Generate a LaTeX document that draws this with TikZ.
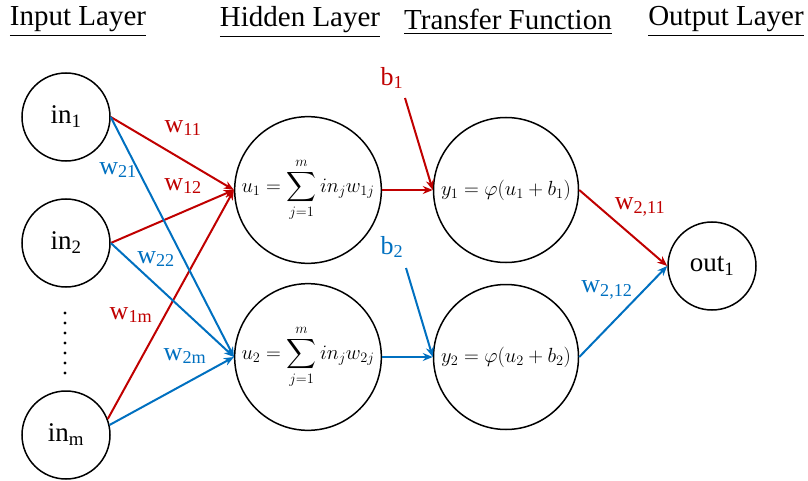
\RequirePackage{fix-cm}
\documentclass[tikz,border=0pt]{standalone}
\usepackage{amsmath}
\usepackage{fontspec}
\setmainfont{Liberation Serif}
\usetikzlibrary{arrows.meta}
\definecolor{wred}{RGB}{192,0,0}
\definecolor{wblue}{RGB}{0,112,192}
\begin{document}
\begin{tikzpicture}[x=1pt,y=-1pt,
  title/.style={font=\fontsize{29}{31}\selectfont},
  small/.style={circle,draw,line width=1.5pt,minimum size=88pt,inner sep=0pt,font=\fontsize{27}{30}\selectfont},
  big/.style={circle,draw,line width=1.5pt,minimum size=145pt,inner sep=0pt,font=\fontsize{20.5}{22}\selectfont},
  redarr/.style={draw=wred,line width=2pt,-{Stealth[length=10pt,width=8pt]}},
  bluearr/.style={draw=wblue,line width=2pt,-{Stealth[length=10pt,width=8pt]}},
  rlab/.style={text=wred,font=\fontsize{26}{28}\selectfont},
  blab/.style={text=wblue,font=\fontsize{26}{28}\selectfont}]
\useasboundingbox (0,0) rectangle (808,481);
% titles
\node[title] (t1) at (78,22) {\underline{Input Layer}};
\node[title] (t2) at (300,22) {\underline{Hidden Layer}};
\node[title] (t3) at (508,22) {\underline{Transfer Function}};
\node[title] (t4) at (726,22) {\underline{Output Layer}};
% nodes
\node[small] (in1) at (66,117) {in\textsubscript{1}};
\node[small] (in2) at (66,243) {in\textsubscript{2}};
\node[small] (inm) at (66,435) {in\textsubscript{m}};
\node[big] (u1) at (308,190) {$\displaystyle u_1=\sum_{j=1}^{m} in_j w_{1j}$\hspace{8pt}};
\node[big] (u2) at (308,357) {$\displaystyle u_2=\sum_{j=1}^{m} in_j w_{2j}$\hspace{8pt}};
\node[big] (y1) at (506,190) {$y_1=\varphi(u_1+b_1)$};
\node[big] (y2) at (506,357) {$y_2=\varphi(u_2+b_2)$};
\node[small] (out) at (712,266) {out\textsubscript{1}};
% dots
\foreach \yy in {313,323,...,373} \fill (65,\yy) circle (1.6pt);
% input -> hidden
\draw[redarr] (in1.east) -- (u1.west);
\draw[redarr] (in2.east) -- (u1.west);
\draw[redarr] (inm.21) -- (u1.west);
\draw[bluearr] (in1.east) -- (u2.west);
\draw[bluearr] (in2.east) -- (u2.west);
\draw[bluearr] (inm.13) -- (u2.west);
% labels
\node[rlab] (lw11) at (183,128) {w\textsubscript{11}};
\node[rlab] (lw12) at (183,186) {w\textsubscript{12}};
\node[blab] (lw21) at (118,170) {w\textsubscript{21}};
\node[blab] (lw22) at (156,259) {w\textsubscript{22}};
\node[rlab] (lw1m) at (131,315) {w\textsubscript{1m}};
\node[blab] (lw2m) at (185,356) {w\textsubscript{2m}};
% hidden -> transfer
\draw[redarr] (u1.east) -- (y1.west);
\draw[bluearr] (u2.east) -- (y2.west);
% biases
\node[rlab] (b1) at (392,78) {b\textsubscript{1}};
\node[blab] (b2) at (392,247) {b\textsubscript{2}};
\coordinate (b1s) at (405,98);
\coordinate (b2s) at (406,268);
\draw[redarr] (b1s) -- (y1.west);
\draw[bluearr] (b2s) -- (y2.west);
% transfer -> output
\draw[redarr] (y1.east) -- (out.west);
\draw[bluearr] (y2.east) -- (out.west);
\node[rlab] (lw211) at (640,207) {w\textsubscript{2,11}};
\node[blab] (lw212) at (607,290) {w\textsubscript{2,12}};
\end{tikzpicture}
\end{document}
